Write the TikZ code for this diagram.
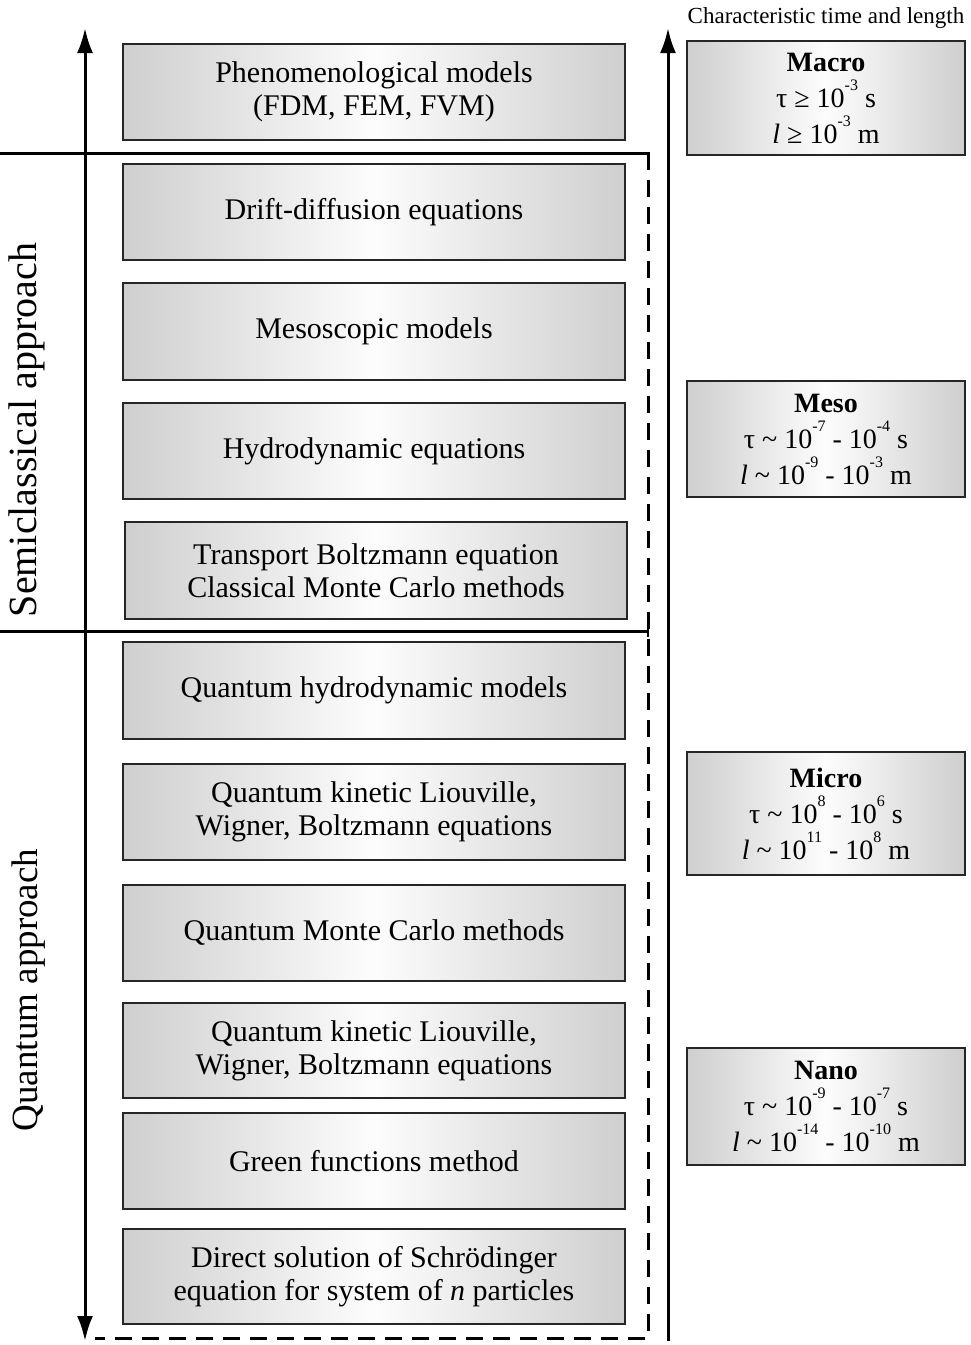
\documentclass[tikz,border=0pt]{standalone}
\usepackage{fontspec}
\setmainfont{Liberation Serif}
\usetikzlibrary{arrows.meta}
\newcommand\mysup[1]{\raisebox{0.6em}{\fontsize{16}{16}\selectfont #1}}
\tikzset{
  mbox/.style={draw=black!85, line width=1.8pt, left color=black!19, right color=black!19, middle color=black!1,
    minimum width=502pt, minimum height=96pt, align=center, inner sep=0pt,
    font=\fontsize{30}{33}\selectfont},
  sbox/.style={draw=black!85, line width=1.8pt, left color=black!19, right color=black!19, middle color=black!1,
    minimum width=278pt, align=center, inner sep=0pt,
    font=\fontsize{28}{36}\selectfont},
  axisline/.style={line width=3pt, black},
  dashline/.style={line width=3pt, black, dash pattern=on 17pt off 10pt},
  tip/.style={-{Latex[length=25pt,width=16pt]}},
  sidelabel/.style={rotate=90}
}
\begin{document}
\begin{tikzpicture}[x=1pt,y=-1pt]
\useasboundingbox (0,0) rectangle (971,1345);
% left boxes
\node[mbox] (b1) at (374,92) {Phenomenological models\\(FDM, FEM, FVM)};
\node[mbox] (b2) at (374,212) {Drift-diffusion equations};
\node[mbox, minimum height=97pt] (b3) at (374,331.5) {Mesoscopic models};
\node[mbox] (b4) at (374,451) {Hydrodynamic equations};
\node[mbox, minimum height=97pt] (b5) at (376,570.5) {Transport Boltzmann equation\\Classical Monte Carlo methods};
\node[mbox, minimum height=97pt] (b6) at (374,690.5) {Quantum hydrodynamic models};
\node[mbox] (b7) at (374,812) {Quantum kinetic Liouville,\\Wigner, Boltzmann equations};
\node[mbox] (b8) at (374,933) {Quantum Monte Carlo methods};
\node[mbox, minimum height=95pt] (b9) at (374,1050.5) {Quantum kinetic Liouville,\\Wigner, Boltzmann equations};
\node[mbox] (b10) at (374,1161) {Green functions method};
\node[mbox, minimum height=95pt] (b11) at (374,1276.5) {Direct solution of Schrödinger\\equation for system of \textit{n} particles};
% right boxes
\node[font=\fontsize{23}{25}\selectfont] (title) at (826,18) {Characteristic time and length};
\node[sbox, minimum height=114pt] (macro) at (826,98) {\textbf{Macro}\\τ ≥ 10\mysup{-3} s\\\textit{l} ≥ 10\mysup{-3} m};
\node[sbox, minimum height=116pt] (meso) at (826,439) {\textbf{Meso}\\τ \char`~{} 10\mysup{-7} - 10\mysup{-4} s\\\textit{l} \char`~{} 10\mysup{-9} - 10\mysup{-3} m};
\node[sbox, minimum height=123pt] (micro) at (826,813.5) {\textbf{Micro}\\τ \char`~{} 10\mysup{8} - 10\mysup{6} s\\\textit{l} \char`~{} 10\mysup{11} - 10\mysup{8} m};
\node[sbox, minimum height=117pt] (nano) at (826,1106.5) {\textbf{Nano}\\τ \char`~{} 10\mysup{-9} - 10\mysup{-7} s\\\textit{l} \char`~{} 10\mysup{-14} - 10\mysup{-10} m};
% side labels
\node[sidelabel, font=\fontsize{40}{42}\selectfont] (semi) at (27,430) {Semiclassical approach};
\node[sidelabel, font=\fontsize{37}{40}\selectfont] (quant) at (29,990) {Quantum approach};
% coordinates
\coordinate (lt) at (85,28);
\coordinate (lb) at (85,1341);
\coordinate (rt) at (668,28);
\coordinate (rb) at (668,1341);
\coordinate (s1l) at (0,153);
\coordinate (s1r) at (648,153);
\coordinate (s2l) at (0,631);
\coordinate (s2r) at (648,631);
\coordinate (dc) at (648,1338);
\coordinate (db) at (95,1338);
% arrows
\draw[axisline, {Latex[length=25pt,width=16pt]}-{Latex[length=25pt,width=16pt]}] (lb) -- (lt);
\draw[axisline, tip] (rb) -- (rt);
% separators
\draw[axisline] (s1l) -- (s1r) -- ++(0,12);
\draw[axisline] (s2l) -- (s2r);
\draw[line width=2.4pt] ([yshift=-6pt]s2r) -- ([yshift=6pt]s2r);
\draw[dashline] (s1r) -- (dc) -- (db);
\end{tikzpicture}
\end{document}
